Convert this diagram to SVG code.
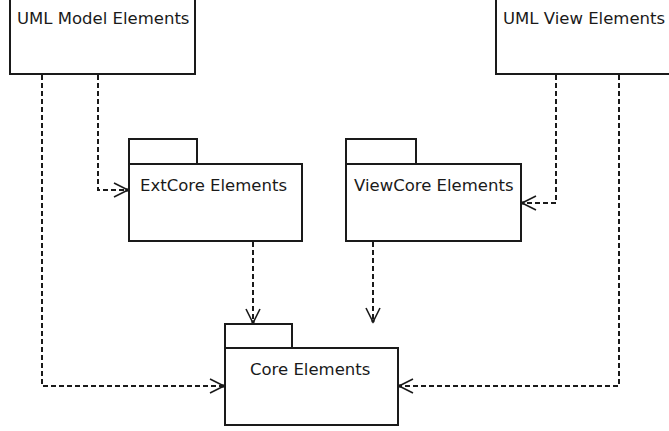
<svg xmlns="http://www.w3.org/2000/svg" width="669" height="431" viewBox="0 0 669 431">
  <defs>
    <style>
      .box { fill: #ffffff; stroke: #1a1a1a; stroke-width: 2; }
      .label { font-family: "DejaVu Sans", Verdana, sans-serif; font-size: 16.5px; fill: #1a1a1a; }
      .dep { fill: none; stroke: #1a1a1a; stroke-width: 2; stroke-dasharray: 5 3; marker-end: url(#open-arrow); }
    </style>
    <!-- open "dependency" arrowhead -->
    <marker id="open-arrow" markerUnits="userSpaceOnUse" markerWidth="18" markerHeight="18" viewBox="0 0 18 18" refX="15" refY="8" orient="auto">
      <path d="M1,1 L15,8 L1,15" fill="none" stroke="#1a1a1a" stroke-width="1.6"/>
      <circle cx="14" cy="8" r="1.7" fill="#1a1a1a"/>
    </marker>
  </defs>

  <rect width="669" height="431" fill="#ffffff"/>

  <!-- dependencies -->
  <g id="connectors">
    <path class="dep" d="M98,75 V190 H128"/>
    <path class="dep" d="M42,75 V386 H224"/>
    <path class="dep" d="M556,75 V203 H522"/>
    <path class="dep" d="M619,75 V386 H399"/>
    <path class="dep" d="M253,242 V323"/>
    <path class="dep" d="M373,242 V322"/>
  </g>

  <g id="uml-model-elements">
    <rect class="box" x="10" y="-10" width="185" height="84"/>
    <text class="label" x="17" y="24">UML Model Elements</text>
  </g>

  <g id="uml-view-elements">
    <rect class="box" x="496" y="-10" width="200" height="84"/>
    <text class="label" x="503" y="24">UML View Elements</text>
  </g>

  <g id="extcore-elements">
    <rect class="box" x="129" y="139" width="68" height="25"/>
    <rect class="box" x="129" y="164" width="173" height="77"/>
    <text class="label" x="140" y="191">ExtCore Elements</text>
  </g>

  <g id="viewcore-elements">
    <rect class="box" x="346" y="139" width="70" height="25"/>
    <rect class="box" x="346" y="164" width="175" height="77"/>
    <text class="label" x="354" y="191">ViewCore Elements</text>
  </g>

  <g id="core-elements">
    <rect class="box" x="225" y="324" width="67" height="24"/>
    <rect class="box" x="225" y="348" width="173" height="77"/>
    <text class="label" x="250" y="375">Core Elements</text>
  </g>
</svg>
